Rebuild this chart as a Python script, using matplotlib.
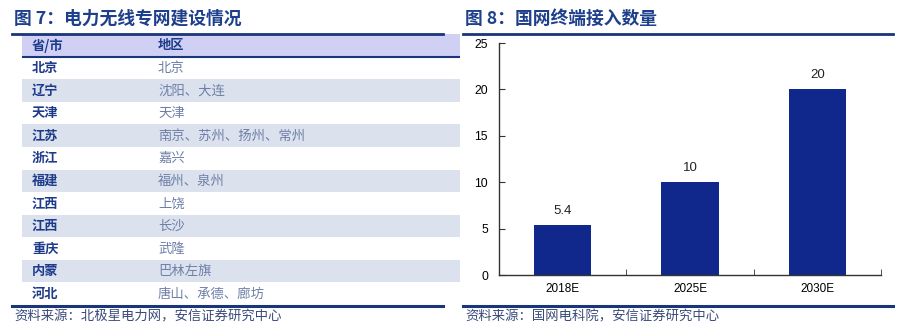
import matplotlib.pyplot as plt

plt.rcParams['font.family'] = ['Noto Sans CJK SC', 'DejaVu Sans']

# table data
provinces = ["北京", "辽宁", "天津", "江苏", "浙江", "福建", "江西", "江西", "重庆", "内蒙", "河北"]
areas = ["北京", "沈阳、大连", "天津", "南京、苏州、扬州、常州", "嘉兴", "福州、泉州",
         "上饶", "长沙", "武隆", "巴林左旗", "唐山、承德、廊坊"]
header = ["省/市", "地区"]

# bar data
years = ["2018E", "2025E", "2030E"]
terminals = [5.4, 10, 20]
value_labels = ["5.4", "10", "20"]

W, H = 911, 328
NAVY = "#1a3579"
TITLE_C = "#1d3f8c"
BAR_C = "#10288c"


def box(x0, y0, x1, y1):
    # pixel box -> figure rect
    return [x0 / W, 1 - y1 / H, (x1 - x0) / W, (y1 - y0) / H]


def main():
    fig = plt.figure(figsize=(W / 100, H / 100), dpi=100)

    # titles and rules
    fig.text(14 / W, 1 - 19 / H, "图 7：电力无线专网建设情况", fontsize=12.8, weight="bold",
             color=TITLE_C, va="center", ha="left")
    fig.text(465 / W, 1 - 19 / H, "图 8：国网终端接入数量", fontsize=12.8, weight="bold",
             color=TITLE_C, va="center", ha="left")
    for x0, x1 in [(12, 443), (463, 893)]:
        fig.add_artist(plt.Line2D([x0 / W, x1 / W], [1 - 33.5 / H] * 2, color=NAVY, lw=2))
        fig.add_artist(plt.Line2D([x0 / W, x1 / W], [1 - 306 / H] * 2, color=NAVY, lw=2.2))

    fig.text(14 / W, 1 - 316 / H, "资料来源：北极星电力网，安信证券研究中心", fontsize=9.6,
             color="#3a4a7a", style="italic", va="center", ha="left")
    fig.text(465 / W, 1 - 316 / H, "资料来源：国网电科院，安信证券研究中心", fontsize=9.6,
             color="#3a4a7a", style="italic", va="center", ha="left")

    # table
    tab = fig.add_axes(box(22, 34, 460, 305))
    n = len(provinces) + 1
    tab.set_xlim(0, 1)
    tab.set_ylim(n, 0)
    tab.set_axis_off()
    tab.barh(0.5, 1, height=1, left=0, color="#cfd0f4", edgecolor="none")
    for i, (p, a) in enumerate(zip(provinces, areas)):
        row = i + 1
        if row % 2 == 0:
            tab.barh(row + 0.5, 1, height=1, left=0, color="#dbe2ee", edgecolor="none")
        tab.text(10 / 438, row + 0.5, p, fontsize=9.5, weight="bold", color="#1d3b8a",
                 va="center", ha="left")
        tab.text(136 / 438, row + 0.5, a, fontsize=9.6, color="#6e7fa8",
                 va="center", ha="left")
    tab.text(10 / 438, 0.5, header[0], fontsize=9.5, weight="bold", color="#1d3b8a",
             va="center", ha="left")
    tab.text(136 / 438, 0.5, header[1], fontsize=9.5, weight="bold", color="#1d3b8a",
             va="center", ha="left")
    tab.axhline(1, color=NAVY, lw=1.5)

    # bar chart
    ax = fig.add_axes(box(499, 43, 881, 275))
    xs = range(len(years))
    ax.bar(xs, terminals, width=0.45, color=BAR_C)
    for x, v, lab in zip(xs, terminals, value_labels):
        ax.text(x, v + 0.9, lab, ha="center", va="bottom", fontsize=9.5,
                family="Liberation Sans", color="#222222")
    ax.set_xlim(-0.5, len(years) - 0.5)
    ax.set_ylim(0, 25)
    ax.set_yticks([0, 5, 10, 15, 20, 25])
    ax.set_xticks(list(xs))
    ax.set_xticklabels(years, family="Liberation Sans", fontsize=8.5)
    ax.set_xticks([i - 0.5 for i in range(len(years) + 1)], minor=True)
    for lab in ax.get_yticklabels():
        lab.set_family("Liberation Sans")
        lab.set_fontsize(8.8)
    ax.tick_params(axis="x", which="major", length=0, pad=6)
    ax.tick_params(axis="x", which="minor", direction="in", length=4, color="#333333")
    ax.tick_params(axis="y", direction="in", length=4, pad=8, color="#333333")
    ax.spines[["top", "right"]].set_visible(False)
    for s in ["left", "bottom"]:
        ax.spines[s].set_color("#333333")
        ax.spines[s].set_linewidth(1)

    fig.savefig("out.png", dpi=100)
    plt.close(fig)


if __name__ == '__main__':
    main()
